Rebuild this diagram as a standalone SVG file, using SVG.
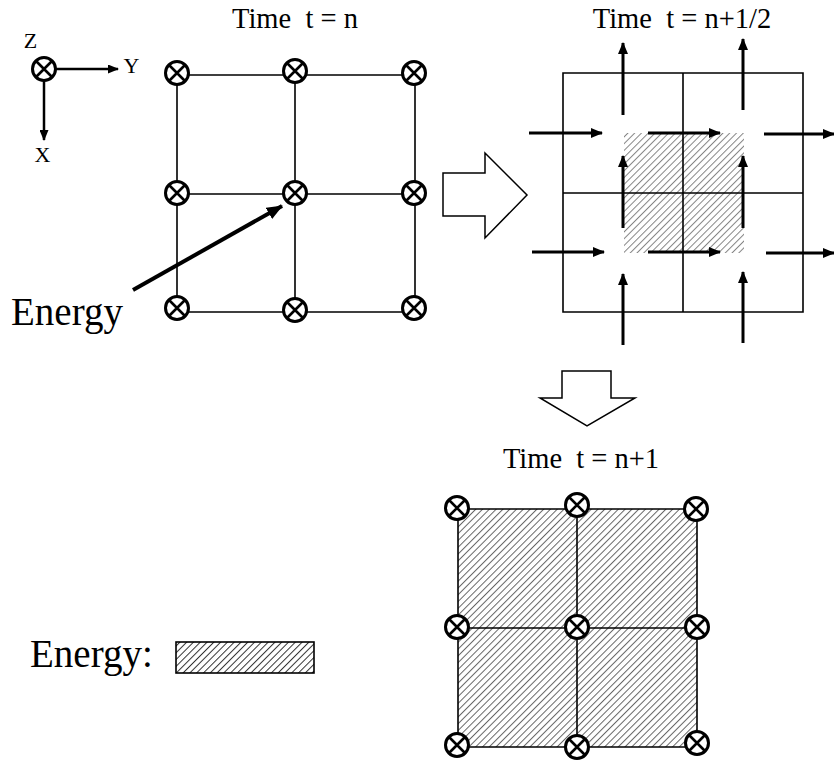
<svg xmlns="http://www.w3.org/2000/svg" width="834" height="761" viewBox="0 0 834 761">
<defs>
  <pattern id="hatch" patternUnits="userSpaceOnUse" width="4.8" height="4.8" patternTransform="rotate(45)">
    <line x1="0.5" y1="0" x2="0.5" y2="4.8" stroke="#333" stroke-width="1"/>
  </pattern>
  <marker id="ah" markerUnits="userSpaceOnUse" viewBox="0 0 12 10" refX="11" refY="5" markerWidth="12" markerHeight="10" orient="auto">
    <path d="M0,0 L12,5 L0,10 Z" fill="#000" stroke="none"/>
  </marker>
  <marker id="ahs" markerUnits="userSpaceOnUse" viewBox="0 0 11 9" refX="10" refY="4.5" markerWidth="11" markerHeight="9" orient="auto">
    <path d="M0,0 L11,4.5 L0,9 Z" fill="#000" stroke="none"/>
  </marker>
  <marker id="ahb" markerUnits="userSpaceOnUse" viewBox="0 0 16 13" refX="15" refY="6.5" markerWidth="16" markerHeight="13" orient="auto">
    <path d="M0,0 L16,6.5 L0,13 Z" fill="#000" stroke="none"/>
  </marker>
  <g id="nd">
    <circle cx="0" cy="0" r="11.5" fill="#fff" stroke="#000" stroke-width="3"/>
    <path d="M-8,-8 L8,8 M8,-8 L-8,8" stroke="#000" stroke-width="2.6"/>
  </g>
</defs>

<!-- axes -->
<g id="axes">
  <line x1="55" y1="69" x2="118" y2="69" stroke="#000" stroke-width="2.5" marker-end="url(#ahs)"/>
  <line x1="44" y1="80" x2="44" y2="140" stroke="#000" stroke-width="2.5" marker-end="url(#ahs)"/>
  <use href="#nd" x="44" y="69"/>
  <g font-family="Liberation Serif" font-size="22" text-anchor="middle">
    <text x="30.5" y="48">Z</text>
    <text x="131.5" y="73">Y</text>
    <text x="42.5" y="162">X</text>
  </g>
</g>

<!-- titles -->
<g id="titles" font-family="Liberation Serif" font-size="28.5" text-anchor="middle">
  <text x="295" y="28" xml:space="preserve">Time  t = n</text>
  <text x="682" y="28" xml:space="preserve">Time  t = n+1/2</text>
  <text x="581" y="468" xml:space="preserve">Time  t = n+1</text>
</g>

<!-- grid t=n -->
<g id="grid-n">
  <path stroke="#000" stroke-width="1.6" fill="none" d="M177,75 H415 M177,194 H415 M177,312 H415 M177,75 V312 M295,75 V312 M415,75 V312"/>
  <use href="#nd" x="177" y="73"/>
  <use href="#nd" x="295" y="71"/>
  <use href="#nd" x="414" y="73"/>
  <use href="#nd" x="177" y="193"/>
  <use href="#nd" x="295" y="193"/>
  <use href="#nd" x="414" y="193"/>
  <use href="#nd" x="177" y="308"/>
  <use href="#nd" x="295" y="310"/>
  <use href="#nd" x="414" y="308"/>
</g>

<g id="energy-label">
  <text font-family="Liberation Serif" font-size="39" x="11" y="325">Energy</text>
  <line x1="133" y1="290" x2="282" y2="206" stroke="#000" stroke-width="4" marker-end="url(#ahb)"/>
</g>

<!-- big right arrow -->
<g id="arrow-right">
  <path fill="#fff" stroke="#000" stroke-width="1.5" d="M443,173 H485 V153 L527,195 L485,238 V216 H443 Z"/>
</g>

<!-- grid t=n+1/2 -->
<g id="grid-half">
  <rect x="624" y="133" width="120" height="120" fill="url(#hatch)" opacity="0.6"/>
  <path stroke="#000" stroke-width="1.6" fill="none" d="M563,73 H803 V312 H563 Z M683,73 V312 M563,193 H803"/>
</g>

<!-- big down arrow -->
<g id="arrow-down">
  <path fill="#fff" stroke="#000" stroke-width="1.5" d="M562,371 H611 V398 H635 L587,426 L540,398 H562 Z"/>
</g>

<!-- grid t=n+1 -->
<g id="grid-n1">
  <rect x="458" y="509" width="239" height="238" fill="url(#hatch)" opacity="0.75"/>
  <path stroke="#000" stroke-width="1.6" fill="none" d="M458,509 H697 M458,628 H697 M458,747 H697 M458,509 V747 M577,509 V747 M697,509 V747"/>
  <use href="#nd" x="457" y="508"/>
  <use href="#nd" x="577" y="505"/>
  <use href="#nd" x="696" y="509"/>
  <use href="#nd" x="457" y="627"/>
  <use href="#nd" x="577" y="627"/>
  <use href="#nd" x="697" y="627"/>
  <use href="#nd" x="457" y="745"/>
  <use href="#nd" x="577" y="747"/>
  <use href="#nd" x="697" y="743"/>
</g>

<!-- legend -->
<g id="legend">
  <text font-family="Liberation Serif" font-size="39" x="30" y="667">Energy:</text>
  <rect x="176" y="642" width="138" height="31" fill="url(#hatch)" stroke="#000" stroke-width="1.6"/>
</g>

<!-- flux arrows -->
<g id="connectors" stroke="#000" stroke-width="3" fill="none" marker-end="url(#ah)">
  <line x1="623" y1="115" x2="623" y2="43"/>
  <line x1="743" y1="110" x2="743" y2="39"/>
  <line x1="529" y1="133" x2="602" y2="133"/>
  <line x1="648" y1="133" x2="720" y2="133"/>
  <line x1="764" y1="134" x2="834" y2="134"/>
  <line x1="623" y1="228" x2="623" y2="156"/>
  <line x1="743" y1="228" x2="743" y2="156"/>
  <line x1="532" y1="252" x2="604" y2="252"/>
  <line x1="648" y1="252" x2="720" y2="252"/>
  <line x1="766" y1="253" x2="834" y2="253"/>
  <line x1="623" y1="345" x2="623" y2="274"/>
  <line x1="743" y1="343" x2="743" y2="272"/>
</g>
</svg>
